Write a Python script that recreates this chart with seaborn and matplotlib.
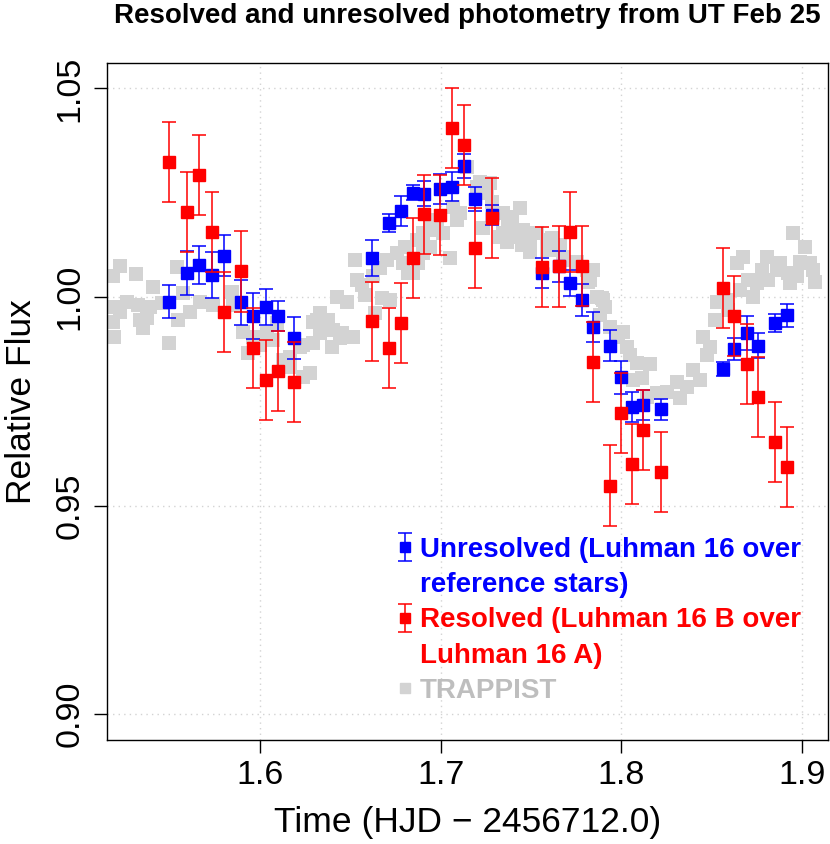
import matplotlib
matplotlib.use("Agg")
import matplotlib.pyplot as plt
from matplotlib.lines import Line2D
from matplotlib import font_manager
import seaborn as sns
import pandas as pd

# ---------------- data ----------------
t_obs = [1.5498, 1.5598, 1.5664, 1.5733, 1.5802, 1.5895, 1.5960, 1.6032, 1.6098, 1.6190,
         1.6622, 1.6716, 1.6781, 1.6845, 1.6910, 1.6996, 1.7063, 1.7129, 1.7190, 1.7284,
         1.7561, 1.7653, 1.7716, 1.7781, 1.7841, 1.7937, 1.7998, 1.8061, 1.8122, 1.8218,
         1.8564, 1.8625, 1.8694, 1.8758, 1.8850, 1.8915]

flux_unres = [0.9989, 1.0057, 1.0077, 1.0052, 1.0099, 0.9987, 0.9954, 0.9975, 0.9955, 0.9902,
              1.0093, 1.0177, 1.0206, 1.0250, 1.0247, 1.0258, 1.0264, 1.0314, 1.0234, 1.0196,
              1.0057, 1.0073, 1.0033, 0.9993, 0.9929, 0.9883, 0.9807, 0.9736, 0.9741, 0.9731,
              0.9827, 0.9875, 0.9914, 0.9883, 0.9937, 0.9956]
err_unres = [0.0040, 0.0052, 0.0045, 0.0055, 0.0050, 0.0054, 0.0055, 0.0043, 0.0036, 0.0050,
             0.0043, 0.0022, 0.0037, 0.0018, 0.0030, 0.0036, 0.0035, 0.0029, 0.0029, 0.0024,
             0.0036, 0.0038, 0.0031, 0.0038, 0.0036, 0.0037, 0.0040, 0.0035, 0.0037, 0.0025,
             0.0016, 0.0027, 0.0040, 0.0030, 0.0022, 0.0028]

flux_res = [1.0324, 1.0204, 1.0293, 1.0155, 0.9963, 1.0061, 0.9877, 0.9801, 0.9823, 0.9796,
            0.9942, 0.9877, 0.9938, 1.0093, 1.0198, 1.0196, 1.0404, 1.0364, 1.0117, 1.0190,
            1.0071, 1.0073, 1.0155, 1.0074, 0.9845, 0.9548, 0.9721, 0.9599, 0.9681, 0.9581,
            1.0021, 0.9954, 0.9839, 0.9760, 0.9652, 0.9592]
err_res = [0.0096, 0.0096, 0.0096, 0.0096, 0.0096, 0.0096, 0.0096, 0.0096, 0.0096, 0.0096,
           0.0095, 0.0096, 0.0096, 0.0096, 0.0095, 0.0096, 0.0096, 0.0096, 0.0096, 0.0096,
           0.0096, 0.0096, 0.0096, 0.0096, 0.0096, 0.0096, 0.0096, 0.0096, 0.0096, 0.0096,
           0.0096, 0.0096, 0.0096, 0.0096, 0.0096, 0.0096]

t_trappist = [1.5185, 1.5185, 1.5194, 1.5197, 1.5225, 1.5225, 1.5262, 1.5314, 1.5326, 1.5336,
              1.5354, 1.5373, 1.5391, 1.5409, 1.5456, 1.5498, 1.5542, 1.5548, 1.5575, 1.5613,
              1.5668, 1.5742, 1.5843, 1.5851, 1.5908, 1.5935, 1.5963, 1.6000, 1.6037, 1.6074,
              1.6092, 1.6129, 1.6148, 1.6166, 1.6166, 1.6221, 1.6240, 1.6240, 1.6277, 1.6295,
              1.6295, 1.6314, 1.6332, 1.6332, 1.6378, 1.6397, 1.6406, 1.6425, 1.6443, 1.6452,
              1.6480, 1.6516, 1.6526, 1.6535, 1.6563, 1.6581, 1.6627, 1.6637, 1.6664, 1.6674,
              1.6701, 1.6720, 1.6757, 1.6793, 1.6803, 1.6821, 1.6849, 1.6867, 1.6876, 1.6904,
              1.6904, 1.6941, 1.6941, 1.6959, 1.6978, 1.7015, 1.7052, 1.7070, 1.7089, 1.7107,
              1.7144, 1.7199, 1.7218, 1.7236, 1.7255, 1.7273, 1.7282, 1.7328, 1.7347, 1.7347,
              1.7365, 1.7374, 1.7384, 1.7393, 1.7411, 1.7439, 1.7449, 1.7457, 1.7457, 1.7494,
              1.7494, 1.7532, 1.7587, 1.7587, 1.7615, 1.7623, 1.7661, 1.7679, 1.7679, 1.7753,
              1.7808, 1.7817, 1.7827, 1.7836, 1.7845, 1.7864, 1.7891, 1.7900, 1.7882, 1.7910,
              1.7937, 1.7983, 1.8011, 1.8030, 1.8048, 1.8066, 1.8085, 1.8113, 1.8140, 1.8159,
              1.8196, 1.8251, 1.8306, 1.8325, 1.8362, 1.8398, 1.8435, 1.8454, 1.8473, 1.8491,
              1.8518, 1.8528, 1.8583, 1.8592, 1.8639, 1.8657, 1.8675, 1.8703, 1.8730, 1.8749,
              1.8777, 1.8805, 1.8813, 1.8860, 1.8878, 1.8924, 1.8934, 1.8952, 1.8971, 1.8989,
              1.9017, 1.9044, 1.9063, 1.9072]
flux_trappist = [1.0049, 0.9941, 0.9903, 0.9977, 1.0074, 0.9965, 0.9989, 1.0055, 0.9981, 0.9945,
                 0.9926, 0.9950, 0.9977, 1.0025, 0.9985, 0.9890, 1.0072, 0.9945, 1.0009, 0.9965,
                 0.9989, 0.9981, 1.0013, 0.9981, 0.9917, 0.9865, 0.9905, 0.9885, 0.9913, 0.9897,
                 0.9937, 0.9849, 0.9845, 0.9857, 0.9833, 0.9881, 0.9809, 0.9885, 0.9817, 0.9889,
                 0.9941, 0.9945, 0.9961, 0.9913, 0.9945, 0.9881, 0.9921, 1.0001, 0.9901, 0.9913,
                 0.9989, 0.9905, 1.0089, 1.0041, 1.0029, 1.0005, 1.0049, 0.9961, 1.0069, 0.9997,
                 1.0089, 0.9993, 1.0105, 1.0081, 1.0120, 1.0057, 1.0057, 1.0136, 1.0081, 1.0105,
                 1.0153, 1.0120, 1.0168, 1.0160, 1.0184, 1.0153, 1.0093, 1.0216, 1.0184, 1.0200,
                 1.0312, 1.0264, 1.0276, 1.0165, 1.0248, 1.0272, 1.0228, 1.0144, 1.0200, 1.0153,
                 1.0132, 1.0188, 1.0176, 1.0192, 1.0144, 1.0212, 1.0124, 1.0160, 1.0129, 1.0132,
                 1.0108, 1.0153, 1.0136, 1.0113, 1.0141, 1.0113, 1.0124, 1.0096, 1.0089, 1.0084,
                 1.0065, 1.0037, 1.0041, 1.0065, 1.0065, 1.0001, 0.9997, 0.9993, 0.9957, 0.9977,
                 0.9929, 0.9905, 0.9917, 0.9881, 0.9861, 0.9801, 0.9841, 0.9805, 0.9761, 0.9839,
                 0.9769, 0.9773, 0.9797, 0.9757, 0.9785, 0.9825, 0.9801, 0.9905, 0.9861, 0.9881,
                 0.9945, 0.9989, 0.9993, 0.9969, 1.0081, 1.0017, 1.0096, 1.0041, 1.0001, 1.0033,
                 1.0065, 1.0096, 1.0041, 1.0065, 1.0081, 1.0057, 1.0033, 1.0153, 1.0049, 1.0084,
                 1.0120, 1.0081, 1.0065, 1.0037]

x_ticks = [1.6, 1.7, 1.8, 1.9]
x_ticklabels = ["1.6", "1.7", "1.8", "1.9"]
y_ticks = [0.90, 0.95, 1.00, 1.05]
y_ticklabels = ["0.90", "0.95", "1.00", "1.05"]

legend_lines = ["Unresolved (Luhman 16 over", "reference stars)",
                "Resolved (Luhman 16 B over", "Luhman 16 A)", "TRAPPIST"]
title = "Resolved and unresolved photometry from UT Feb 25"
x_label = "Time (HJD \u2212 2456712.0)"
y_label = "Relative Flux"

# ---------------- style ----------------
sns.set_theme(style="white")
available = {f.name for f in font_manager.fontManager.ttflist}
base_font = "Liberation Sans" if "Liberation Sans" in available else "DejaVu Sans"
plt.rcParams["font.family"] = [base_font, "DejaVu Sans"]
plt.rcParams["text.color"] = "black"
plt.rcParams["axes.labelcolor"] = "black"

BLUE = "#0000FF"
RED = "#FF0000"
GRAY_PT = "#D3D3D3"
GRAY_TXT = "#BEBEBE"

fig = plt.figure(figsize=(8.30, 8.44), dpi=100)
fig.patch.set_facecolor("white")
ax = fig.add_axes([0.1289, 0.1232, 0.8687, 0.8018])
ax.set_facecolor("white")

trap_df = pd.DataFrame({"t": t_trappist, "f": flux_trappist})
sns.scatterplot(data=trap_df, x="t", y="f", marker="s", color=GRAY_PT, s=88,
                linewidth=0, ax=ax, zorder=1, legend=False)

eb_blue = ax.errorbar(t_obs, flux_unres, yerr=err_unres, fmt="s", color=BLUE,
                      ms=8.6, capsize=4.8, elinewidth=1.1, capthick=1.1, zorder=3)
eb_red = ax.errorbar(t_obs, flux_res, yerr=err_res, fmt="s", color=RED,
                     ms=8.6, capsize=4.8, elinewidth=1.1, capthick=1.1, zorder=4)

ax.set_xlim(1.5153, 1.9144)
ax.set_ylim(0.8938, 1.0560)
ax.set_xticks(x_ticks)
ax.set_xticklabels(x_ticklabels)
ax.set_yticks(y_ticks)
ax.set_yticklabels(y_ticklabels, rotation=90, va="center")

ax.grid(True, color="#D3D3D3", linestyle=(0, (1, 3)), linewidth=1.0)
ax.set_axisbelow(True)
for sp in ax.spines.values():
    sp.set_visible(True)
    sp.set_color("black")
    sp.set_linewidth(1.0)

ax.tick_params(axis="both", which="major", direction="out", length=9.1, width=1.0,
               color="black", labelsize=24.5, labelcolor="black", bottom=True, left=True)
ax.tick_params(axis="x", pad=5)
ax.tick_params(axis="y", pad=6.5)

ax.set_xlabel(x_label, fontsize=25.5, va="center", color="black")
ax.xaxis.set_label_coords(0.5, -0.1212)
ax.set_ylabel(y_label, fontsize=25.5, va="center", color="black")
ax.yaxis.set_label_coords(-0.1190, 0.5)

fig.text(0.5633, 0.981, title, ha="center", va="center", fontsize=20,
         fontweight="bold", color="black")

empty = Line2D([], [], linestyle="none", marker=None)
gray_handle = Line2D([], [], linestyle="none", marker="s", color=GRAY_PT, ms=8.6)
handles = [eb_blue, empty, eb_red, empty, gray_handle]
leg = ax.legend(handles, legend_lines, loc="upper left", bbox_to_anchor=(0.399, 0.300),
                frameon=False, borderaxespad=0, borderpad=0, handlelength=0.76,
                handletextpad=0.15, labelspacing=0.33, markerscale=0.8,
                prop={"family": [base_font, "DejaVu Sans"], "weight": "bold", "size": 20},
                labelcolor=[BLUE, BLUE, RED, RED, GRAY_TXT])

fig.savefig("out.png", dpi=100, facecolor="white")
